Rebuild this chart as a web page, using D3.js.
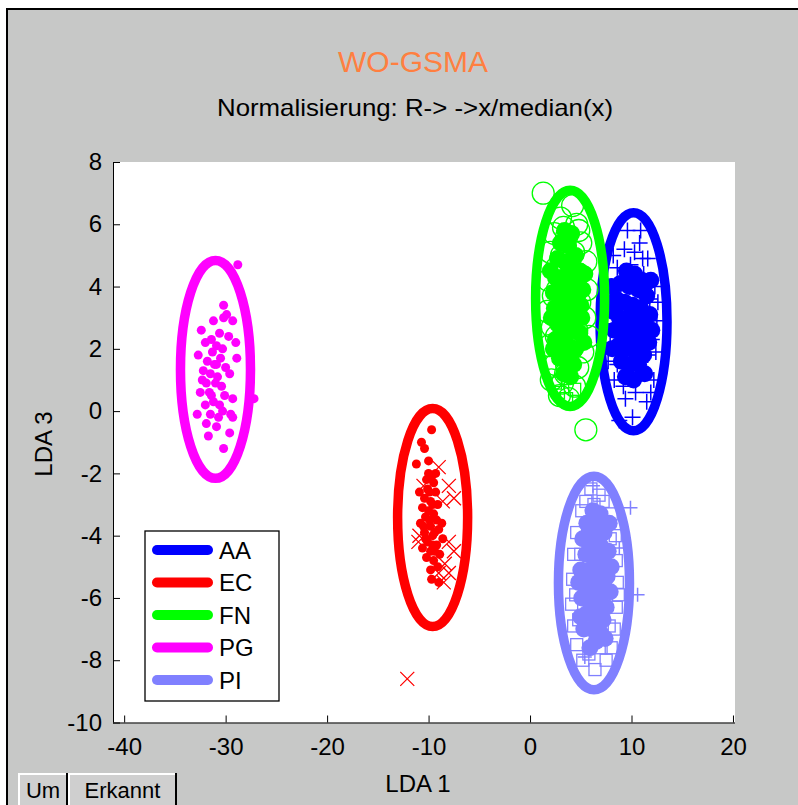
<!DOCTYPE html>
<html>
<head>
<meta charset="utf-8">
<script src="https://cdn.jsdelivr.net/npm/d3@7"></script>
<style>
  html, body { margin: 0; padding: 0; background: #ffffff; }
  svg { display: block; }
  text { font-family: "Liberation Sans", Arial, sans-serif; fill: #000; }
</style>
</head>
<body>
<svg id="chart" width="798" height="805"></svg>
<script>
// ---------- data ----------
const classNames = ["AA", "EC", "FN", "PG", "PI"];
const classColors = ["#0000ff", "#ff0000", "#00ff00", "#ff00ff", "#8080ff"];

// ellipse centres and semi-axes (data units)
const ellipseCx = [10.2, -9.6, 3.95, -31.0, 6.3];
const ellipseCy = [2.87, -3.42, 3.62, 1.34, -5.52];
const ellipseRx = [3.3, 3.45, 3.4, 3.45, 3.5];
const ellipseRy = [3.5, 3.5, 3.47, 3.5, 3.43];

const xTicks = [-40, -30, -20, -10, 0, 10, 20];
const yTicks = [-10, -8, -6, -4, -2, 0, 2, 4, 6, 8];

// AA
const aaPlus = [[9.3,5.2],[10.8,5.4],[11.6,4.9],[8.6,4.6],[9.9,4.7],[11.2,4.4],[12.3,4.0],[8.1,4.0],[9.4,4.1],[10.6,3.9],
  [11.8,3.6],[7.8,3.4],[9.0,3.5],[10.2,3.3],[11.4,3.1],[12.5,2.9],[8.4,2.8],[9.7,2.7],[10.9,2.6],[12.0,2.3],
  [7.9,2.2],[9.1,2.1],[10.4,2.0],[11.6,1.8],[8.6,1.5],[9.8,1.4],[11.0,1.2],[12.2,1.0],[9.2,0.8],[10.4,0.6],
  [11.5,0.3],[9.4,0.4],[10.1,-0.2],[8.8,-0.3],[10.9,5.8],[9.6,5.8],[8.3,1.0],[12.4,1.9],[11.1,4.9],[8.2,5.0],
  [7.6,2.8],[7.7,1.6],[12.6,3.5],[11.9,0.6],[10.3,5.1]];
const aaCore = [[9.5,4.5],[10.3,4.4],[11.0,4.2],[8.9,4.1],[9.8,4.0],[10.7,3.9],[11.5,3.7],[8.5,3.6],[9.3,3.5],[10.1,3.4],
  [10.9,3.3],[11.8,3.1],[8.8,3.0],[9.6,2.9],[10.5,2.9],[11.3,2.7],[8.3,2.6],[9.1,2.5],[10.0,2.4],[10.8,2.3],
  [11.7,2.2],[8.7,2.1],[9.5,2.0],[10.4,1.9],[11.2,1.8],[9.0,1.6],[9.9,1.5],[10.7,1.5],[8.2,3.2],[12.0,2.6],
  [9.9,3.1],[10.5,2.6],[9.3,2.2],[11.4,4.1],[8.1,2.0],[8.0,4.0],[11.9,4.2],[10.2,1.0],[9.4,1.1],[11.3,1.2]];

// EC
const ecDots = [[-9.7,-0.6],[-10.7,-1.0],[-10.4,-1.2],[-10.0,-1.6],[-11.2,-1.7],[-9.7,-2.1],[-9.5,-2.3],[-10.1,-2.5],[-9.3,-2.6],[-10.4,-2.8],
  [-9.8,-2.9],[-9.1,-3.0],[-10.6,-3.1],[-10.0,-3.2],[-9.5,-3.3],[-10.3,-3.4],[-9.2,-3.5],[-10.8,-3.6],[-9.8,-3.7],[-9.0,-3.8],
  [-10.4,-3.9],[-9.6,-4.0],[-10.1,-4.2],[-9.2,-4.3],[-10.6,-4.4],[-9.8,-4.5],[-8.9,-4.6],[-10.2,-4.7],[-9.5,-4.8],[-9.1,-5.0],
  [-9.8,-5.1],[-9.0,-5.5],[-8.7,-3.6],[-8.6,-4.1],[-10.9,-2.6],[-9.9,-3.5],[-9.4,-4.5],[-10.0,-2.0],[-9.3,-2.0],[-9.6,-3.0],
  [-10.2,-2.2],[-9.9,-2.6],[-10.5,-3.7],[-9.4,-3.9],[-10.3,-4.1],[-9.6,-4.3],[-9.7,-5.4]];
const ecCross = [[-9.0,-1.8],[-10.5,-2.4],[-8.0,-2.4],[-7.5,-2.8],[-11.0,-4.2],[-8.0,-4.2],[-7.5,-4.5],[-8.4,-4.9],[-8.0,-5.2],[-9.0,-5.2],
  [-8.5,-5.5],[-8.6,-2.9],[-10.9,-4.0],[-12.1,-8.6]];

// FN
const fnCircles = [[1.3,7.0],[4.2,6.6],[3.0,6.2],[4.6,6.0],[2.4,5.7],[3.6,5.6],[5.0,5.4],[2.0,5.1],[3.1,5.0],[4.3,5.1],
  [5.5,4.8],[2.6,4.6],[3.7,4.5],[4.8,4.4],[1.8,4.2],[3.2,4.1],[4.2,4.0],[5.6,3.9],[2.3,3.7],[3.6,3.6],
  [4.9,3.5],[1.7,3.2],[2.9,3.2],[4.1,3.1],[5.4,3.0],[2.2,2.7],[3.4,2.6],[4.6,2.6],[5.8,2.4],[1.9,2.1],
  [3.0,2.1],[4.1,2.0],[5.2,1.9],[2.5,1.5],[3.6,1.5],[4.7,1.4],[2.1,1.0],[3.2,0.9],[4.4,0.8],[3.8,0.4],
  [2.9,0.5],[5.5,-0.6],[3.9,4.8],[2.7,3.9],[4.5,3.3],[3.3,2.9],[2.6,2.4],[4.0,2.3],[3.5,1.2],[4.8,5.8],[3.3,5.9]];
const fnCore = [[3.0,5.4],[3.8,5.3],[4.5,5.0],[2.7,4.9],[3.4,4.8],[4.1,4.7],[4.9,4.5],[2.5,4.3],[3.2,4.3],[3.9,4.2],
  [4.6,4.1],[5.2,3.9],[2.8,3.8],[3.5,3.7],[4.3,3.6],[5.0,3.4],[2.4,3.3],[3.1,3.2],[3.8,3.1],[4.6,3.0],
  [2.7,2.8],[3.4,2.7],[4.2,2.6],[4.9,2.5],[2.5,2.3],[3.1,2.2],[3.8,2.1],[4.5,2.0],[2.9,1.7],[3.6,1.6],
  [4.3,1.5],[3.3,1.2],[4.0,1.1],[2.3,2.0],[5.1,3.0],[2.3,3.8],[3.0,4.0],[4.4,4.4],[3.6,4.1],[4.0,3.4],
  [3.2,3.5],[2.9,2.4],[4.7,3.7],[3.4,5.8],[4.1,5.7],[5.3,2.2],[2.1,3.0],[2.0,4.5],[5.4,4.4]];
const fnSquares = [[2.8,0.6],[3.6,0.4],[4.4,0.7],[2.5,0.9]];

// PG
const pgDots = [[-28.8,4.7],[-30.2,3.4],[-30.2,3.0],[-29.3,2.9],[-31.2,2.9],[-32.4,2.6],[-30.6,2.5],[-29.7,2.4],[-31.4,2.3],[-30.9,2.1],
  [-32.7,1.8],[-28.9,1.7],[-31.8,1.6],[-30.5,1.7],[-31.1,1.5],[-30.0,1.4],[-32.2,1.3],[-31.5,1.2],[-30.8,1.1],[-29.6,1.2],
  [-31.9,0.9],[-31.0,0.9],[-30.4,0.8],[-32.5,0.6],[-31.6,0.6],[-30.1,0.5],[-29.3,0.4],[-27.2,0.4],[-31.2,0.3],[-32.0,0.2],
  [-30.6,0.2],[-32.8,-0.1],[-31.5,-0.1],[-30.3,0.0],[-29.3,-0.2],[-31.9,-0.4],[-30.9,-0.5],[-29.6,-0.7],[-30.2,-1.2],[-31.3,1.9],
  [-30.3,2.0],[-32.0,2.2],[-29.9,3.1],[-31.7,-0.8],[-30.7,-0.2],[-31.4,0.5],[-30.9,1.5],[-32.3,1.0],[-29.0,2.2],[-29.5,-0.1]];

// PI
const piSquares = [[6.0,-2.5],[7.2,-2.9],[5.1,-3.2],[8.0,-3.3],[4.6,-3.9],[8.4,-4.0],[6.3,-3.0],[4.3,-4.6],[8.5,-4.8],[4.2,-5.4],
  [8.6,-5.5],[4.1,-6.2],[8.5,-6.3],[4.3,-6.9],[8.3,-7.0],[4.6,-7.5],[8.0,-7.6],[5.2,-8.0],[6.4,-8.3],[7.5,-8.0],
  [5.8,-7.8],[7.0,-7.6],[5.0,-4.6],[7.9,-4.1],[4.8,-6.7],[7.8,-6.9],[6.8,-2.7],[5.5,-2.9],[4.5,-5.9],[8.7,-5.9]];
const piPlus = [[10.6,-5.9],[9.9,-3.1],[6.2,-2.4],[8.8,-4.4],[5.4,-7.9]];
const piCore = [[6.2,-3.2],[5.6,-3.6],[6.6,-3.6],[7.3,-3.9],[5.2,-4.1],[6.0,-4.2],[6.9,-4.3],[7.7,-4.5],[5.5,-4.6],[6.4,-4.7],
  [7.2,-4.9],[5.0,-5.1],[5.9,-5.1],[6.8,-5.2],[7.6,-5.3],[5.4,-5.6],[6.3,-5.6],[7.1,-5.7],[7.9,-5.8],[5.1,-6.0],
  [6.0,-6.1],[6.8,-6.1],[7.5,-6.3],[5.6,-6.5],[6.4,-6.6],[7.2,-6.7],[5.3,-7.0],[6.1,-7.0],[6.9,-7.1],[6.5,-7.4],
  [5.8,-3.9],[6.6,-4.0],[6.2,-5.3],[6.6,-6.4],[5.7,-5.8],[7.0,-4.7],[4.8,-5.5],[8.0,-5.0],[5.9,-7.6],[7.4,-7.3],
  [5.0,-6.6],[7.8,-3.6],[6.9,-3.3]];

// ---------- drawing ----------
const svg = d3.select("#chart");
const W = 798, H = 805;

// figure background with frame
svg.append("rect").attr("x", 7).attr("y", 9).attr("width", W).attr("height", H)
  .attr("fill", "#c7c8c7");
svg.append("path").attr("d", `M7,${H} V9 H${W}`).attr("fill", "none")
  .attr("stroke", "#000").attr("stroke-width", 2);

const plot = {left: 113, right: 735, top: 162, bottom: 722.5};
const x = d3.scaleLinear().domain([-41.1, 20.2]).range([plot.left, plot.right]);
const y = d3.scaleLinear().domain([-10, 8]).range([plot.bottom, plot.top]);

svg.append("rect").attr("x", plot.left).attr("y", plot.top)
  .attr("width", plot.right - plot.left).attr("height", plot.bottom - plot.top)
  .attr("fill", "#ffffff");

// titles
svg.append("text").attr("x", 413).attr("y", 72).attr("text-anchor", "middle")
  .style("font-size", "30px").style("fill", "#ff7f40").text("WO-GSMA");
svg.append("text").attr("x", 415).attr("y", 116).attr("text-anchor", "middle")
  .attr("textLength", 396).attr("lengthAdjust", "spacingAndGlyphs")
  .style("font-size", "24px").text("Normalisierung: R-> ->x/median(x)");

const g = svg.append("g");
svg.append("clipPath").attr("id", "plotclip").append("rect")
  .attr("x", plot.left).attr("y", plot.top)
  .attr("width", plot.right - plot.left).attr("height", plot.bottom - plot.top);
const marks = g.append("g").attr("clip-path", "url(#plotclip)");

function drawDots(data, color, r) {
  marks.append("g").selectAll("circle").data(data).join("circle")
    .attr("cx", d => x(d[0])).attr("cy", d => y(d[1])).attr("r", r).attr("fill", color);
}
function drawCircles(data, color, r) {
  marks.append("g").selectAll("circle").data(data).join("circle")
    .attr("cx", d => x(d[0])).attr("cy", d => y(d[1])).attr("r", r)
    .attr("fill", "none").attr("stroke", color).attr("stroke-width", 1.3);
}
function drawPlus(data, color, s) {
  marks.append("g").selectAll("path").data(data).join("path")
    .attr("d", d => { const px = x(d[0]), py = y(d[1]);
      return `M${px - s},${py}H${px + s}M${px},${py - s}V${py + s}`; })
    .attr("stroke", color).attr("stroke-width", 1.5).attr("fill", "none");
}
function drawCross(data, color, s) {
  marks.append("g").selectAll("path").data(data).join("path")
    .attr("d", d => { const px = x(d[0]), py = y(d[1]);
      return `M${px - s},${py - s}L${px + s},${py + s}M${px - s},${py + s}L${px + s},${py - s}`; })
    .attr("stroke", color).attr("stroke-width", 1.3).attr("fill", "none");
}
function drawSquares(data, color, s) {
  marks.append("g").selectAll("rect").data(data).join("rect")
    .attr("x", d => x(d[0]) - s).attr("y", d => y(d[1]) - s)
    .attr("width", 2 * s).attr("height", 2 * s)
    .attr("fill", "none").attr("stroke", color).attr("stroke-width", 1.3);
}
function drawEllipse(i) {
  marks.append("ellipse")
    .attr("cx", x(ellipseCx[i])).attr("cy", y(ellipseCy[i]))
    .attr("rx", x(ellipseCx[i] + ellipseRx[i]) - x(ellipseCx[i]))
    .attr("ry", y(ellipseCy[i]) - y(ellipseCy[i] + ellipseRy[i]))
    .attr("fill", "none").attr("stroke", classColors[i]).attr("stroke-width", 9.5);
}

// AA
drawPlus(aaPlus, classColors[0], 8);
drawDots(aaCore, classColors[0], 8.5);
drawEllipse(0);
// EC
drawDots(ecDots, classColors[1], 4.5);
drawCross(ecCross, classColors[1], 7);
drawEllipse(1);
// FN
drawCircles(fnCircles, classColors[2], 11);
drawDots(fnCore, classColors[2], 8.5);
drawSquares(fnSquares, classColors[2], 6);
drawEllipse(2);
// PG
drawDots(pgDots, classColors[3], 4.5);
drawEllipse(3);
// PI
drawSquares(piSquares, classColors[4], 6);
drawPlus(piPlus, classColors[4], 7);
drawDots(piCore, classColors[4], 8.5);
drawEllipse(4);

// axes
const fmt = d => String(d);
const xAxis = d3.axisBottom(x).tickValues(xTicks).tickSizeInner(-7).tickSizeOuter(0).tickPadding(15)
  .tickFormat(fmt);
const yAxis = d3.axisLeft(y).tickValues(yTicks).tickSizeInner(-7).tickSizeOuter(0).tickPadding(11)
  .tickFormat(fmt);

const gx = svg.append("g").attr("transform", `translate(0,${plot.bottom})`).call(xAxis);
const gy = svg.append("g").attr("transform", `translate(${plot.left},0)`).call(yAxis);
[gx, gy].forEach(a => {
  a.selectAll("text").style("font-size", "24px").style("font-family", "'Liberation Sans', Arial, sans-serif")
    .attr("fill", "#000");
  a.selectAll("line").attr("stroke", "#000");
  a.select(".domain").attr("stroke", "#000");
});
gx.select(".domain").attr("d", `M${plot.left},0.5H${plot.right}`);
gy.select(".domain").attr("d", `M0.5,${plot.bottom}V${plot.top}`);

// axis labels
svg.append("text").attr("x", 418).attr("y", 792).attr("text-anchor", "middle")
  .style("font-size", "24px").text("LDA 1");
svg.append("text").attr("transform", "translate(52,444) rotate(-90)").attr("text-anchor", "middle")
  .style("font-size", "24px").text("LDA 3");

// legend
const legend = svg.append("g");
legend.append("rect").attr("x", 145).attr("y", 531).attr("width", 134).attr("height", 170)
  .attr("fill", "#ffffff").attr("stroke", "#000").attr("stroke-width", 1.3);
const legendY = d3.scalePoint().domain(classNames).range([550, 680]);
classNames.forEach((name, i) => {
  legend.append("line").attr("x1", 157).attr("x2", 208)
    .attr("y1", legendY(name)).attr("y2", legendY(name))
    .attr("stroke", classColors[i]).attr("stroke-width", 10).attr("stroke-linecap", "round");
  legend.append("text").attr("x", 219).attr("y", legendY(name)).attr("dy", "0.36em")
    .style("font-size", "24px").text(name);
});

// buttons
const buttons = [{label: "Um", x0: 18, x1: 68}, {label: "Erkannt", x0: 68, x1: 177}];
buttons.forEach(b => {
  svg.append("rect").attr("x", b.x0).attr("y", 773).attr("width", b.x1 - b.x0).attr("height", 40)
    .attr("fill", "#cfcfcf");
  svg.append("path").attr("d", `M${b.x0 + 1},${H} V${774} H${b.x1 - 2}`)
    .attr("fill", "none").attr("stroke", "#ffffff").attr("stroke-width", 2);
  svg.append("path").attr("d", `M${b.x1 - 1},${773} V${H}`)
    .attr("fill", "none").attr("stroke", "#000").attr("stroke-width", 2);
  svg.append("text").attr("x", (b.x0 + b.x1) / 2).attr("y", 798).attr("text-anchor", "middle")
    .style("font-size", "22px").text(b.label);
});
</script>
</body>
</html>
